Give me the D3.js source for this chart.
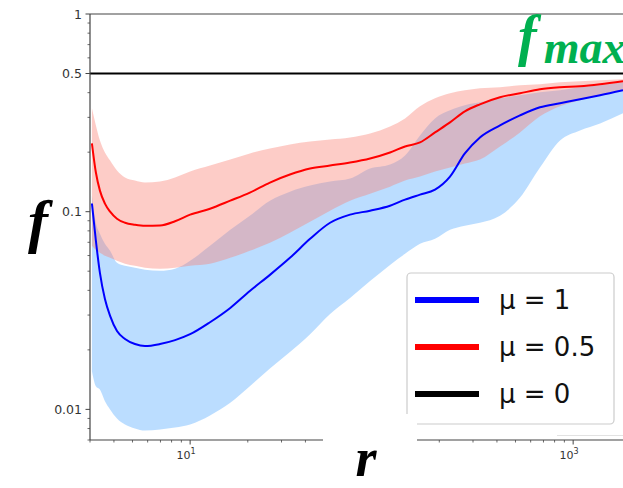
<!DOCTYPE html>
<html>
<head>
<meta charset="utf-8">
<script src="https://cdn.jsdelivr.net/npm/d3@7"></script>
<style>
  body { margin: 0; background: #fff; }
  svg { display: block; }
</style>
</head>
<body>
<svg id="chart" width="623" height="488"></svg>
<script>
// r values (log-spaced)
const r = [3.07, 3.22, 3.38, 3.59, 3.82, 4.15, 4.57, 5.15, 5.81, 6.96, 8.34, 10.0, 12.7, 16.2, 20.5,
  26.1, 33.2, 42.3, 53.8, 68.4, 87.0, 110.6, 132.5, 158.6, 190, 227.5, 272, 326, 415, 528, 671, 854,
  1086, 1382, 1821]

// mu = 1
const blueMean = [0.110, 0.0713, 0.0490, 0.0362, 0.0297, 0.0249, 0.0227, 0.0214, 0.0209, 0.0214,
  0.0224, 0.0240, 0.0276, 0.0326, 0.0397, 0.0479, 0.0584, 0.0729, 0.0879, 0.0966, 0.1012, 0.1072,
  0.1151, 0.1220, 0.1293, 0.1505, 0.1970, 0.2374, 0.2732, 0.3071, 0.3372, 0.3534, 0.3703, 0.3879, 0.4112]
const blueHigh = [0.1206, 0.0879, 0.0773, 0.0688, 0.0634, 0.0551, 0.0532, 0.0520, 0.0508, 0.0502,
  0.0514, 0.0564, 0.0672, 0.0810, 0.0954, 0.1137, 0.1263, 0.1355, 0.1420, 0.1470, 0.1653, 0.1732,
  0.1924, 0.2431, 0.2965, 0.3256, 0.3452, 0.3575, 0.3746, 0.3879, 0.4018, 0.4112, 0.4259, 0.4360, 0.4517]
const blueLow = [0.0156, 0.0131, 0.0126, 0.0110, 0.0100, 0.0090, 0.00839, 0.00801, 0.00782, 0.00792,
  0.00810, 0.00839, 0.00932, 0.0108, 0.0131, 0.0161, 0.0195, 0.0240, 0.0304, 0.0366, 0.0446, 0.0538,
  0.0612, 0.0688, 0.0729, 0.0810, 0.0849, 0.0879, 0.0954, 0.1178, 0.1673, 0.2292, 0.2577, 0.2797, 0.3144]

// mu = 0.5
const redMean = [0.2214, 0.1578, 0.1278, 0.1098, 0.1000, 0.0921, 0.0879, 0.0859, 0.0849, 0.0852,
  0.0895, 0.0966, 0.1035, 0.1137, 0.1249, 0.1404, 0.1541, 0.1653, 0.1712, 0.1773, 0.1858, 0.1993,
  0.2138, 0.2240, 0.2518, 0.2829, 0.3218, 0.3492, 0.3791, 0.3972, 0.4161, 0.4259, 0.4310, 0.4413, 0.4570]
const redHigh = [0.3333, 0.2732, 0.2292, 0.1993, 0.1815, 0.1615, 0.1488, 0.1437, 0.1404, 0.1420,
  0.1488, 0.1596, 0.1712, 0.1837, 0.1970, 0.2088, 0.2188, 0.2265, 0.2319, 0.2374, 0.2489, 0.2701,
  0.2965, 0.3412, 0.3746, 0.3972, 0.4112, 0.4210, 0.4259, 0.4360, 0.4413, 0.4517, 0.4570, 0.4624, 0.4678]
const redLow = [0.0672, 0.0641, 0.0619, 0.0598, 0.0584, 0.0564, 0.0545, 0.0532, 0.0520, 0.0514,
  0.0520, 0.0532, 0.0545, 0.0584, 0.0634, 0.0696, 0.0782, 0.0890, 0.1012, 0.1137, 0.1234, 0.1339,
  0.1437, 0.1505, 0.1596, 0.1673, 0.1752, 0.1837, 0.2138, 0.2518, 0.3035, 0.3412, 0.3660, 0.3879, 0.4112]

// mu = 0
const fMax = 0.5

const yMajor = [0.01, 0.1, 0.5, 1]
const yMajorLabels = ["0.01", "0.1", "0.5", "1"]
const yMinor = [0.007, 0.008, 0.009, 0.02, 0.03, 0.04, 0.05, 0.06, 0.07, 0.08, 0.09,
  0.2, 0.3, 0.4, 0.6, 0.7, 0.8, 0.9]
const xMajor = [10, 100, 1000]
const xLabelled = [10, 1000]      // 10^2 sits under the pasted "r" patch
const xLabelExp = ["1", "3"]
const xMinor = [3, 4, 5, 6, 7, 8, 9, 20, 30, 40, 50, 60, 70, 80, 90,
  200, 300, 400, 500, 600, 700, 800, 900]

const legendLabels = ["μ = 1", "μ = 0.5", "μ = 0"]
const legendColors = ["#0000ff", "#ff0000", "#000000"]

const svg = d3.select("#chart")
const m = { left: 90, right: 623, top: 14, bottom: 440 }

const x = d3.scaleLog().domain([3, 1821]).range([m.left, m.right])
const y = d3.scaleLog().domain([0.007, 1]).range([m.bottom, m.top])

svg.append("defs").append("clipPath").attr("id", "plotclip")
  .append("rect").attr("x", m.left).attr("y", m.top)
  .attr("width", m.right - m.left).attr("height", m.bottom - m.top)

const plot = svg.append("g").attr("clip-path", "url(#plotclip)")

const idx = d3.range(r.length)

// bands: blue first, red on top (gives the mauve overlap)
const area = (lo, hi) => d3.area()
  .x(i => x(r[i])).y0(i => y(lo[i])).y1(i => y(hi[i]))
  .curve(d3.curveMonotoneX)

plot.append("path").datum(idx)
  .attr("d", area(blueLow, blueHigh))
  .attr("fill", "#1e90ff").attr("fill-opacity", 0.3)

plot.append("path").datum(idx)
  .attr("d", area(redLow, redHigh))
  .attr("fill", "#fa8072").attr("fill-opacity", 0.4)

// mean lines
const line = vals => d3.line()
  .x(i => x(r[i])).y(i => y(vals[i]))
  .curve(d3.curveMonotoneX)

plot.append("path").datum(idx)
  .attr("d", line(blueMean))
  .attr("fill", "none").attr("stroke", "#0000ff").attr("stroke-width", 2)

plot.append("path").datum(idx)
  .attr("d", line(redMean))
  .attr("fill", "none").attr("stroke", "#ff0000").attr("stroke-width", 2)

// f max line
svg.append("line")
  .attr("x1", m.left).attr("x2", m.right)
  .attr("y1", y(fMax)).attr("y2", y(fMax))
  .attr("stroke", "#000").attr("stroke-width", 2.2)

// spines
svg.append("line").attr("x1", m.left).attr("x2", m.right).attr("y1", m.top).attr("y2", m.top)
  .attr("stroke", "#444").attr("stroke-width", 1.2)
svg.append("line").attr("x1", m.left).attr("x2", m.left).attr("y1", m.top).attr("y2", m.bottom)
  .attr("stroke", "#444").attr("stroke-width", 1.2)
svg.append("line").attr("x1", m.left).attr("x2", m.right).attr("y1", m.bottom).attr("y2", m.bottom)
  .attr("stroke", "#444").attr("stroke-width", 1.2)

// y ticks
const yAxis = svg.append("g")
yAxis.selectAll(".ymin").data(yMinor).join("line")
  .attr("x1", m.left - 2.5).attr("x2", m.left).attr("y1", d => y(d)).attr("y2", d => y(d))
  .attr("stroke", "#444").attr("stroke-width", 0.8)
yAxis.selectAll(".ymaj").data(yMajor).join("line")
  .attr("x1", m.left - 4.5).attr("x2", m.left).attr("y1", d => y(d)).attr("y2", d => y(d))
  .attr("stroke", "#444").attr("stroke-width", 1)
yAxis.selectAll("text").data(yMajor).join("text")
  .attr("x", m.left - 8).attr("y", d => y(d)).attr("dy", "0.36em")
  .attr("text-anchor", "end")
  .attr("font-family", "DejaVu Sans").attr("font-size", 12.5).attr("fill", "#333")
  .text((d, i) => yMajorLabels[i])

// x ticks
const xAxis = svg.append("g")
xAxis.selectAll(".xmin").data(xMinor).join("line")
  .attr("x1", d => x(d)).attr("x2", d => x(d)).attr("y1", m.bottom).attr("y2", m.bottom + 2.5)
  .attr("stroke", "#444").attr("stroke-width", 0.8)
xAxis.selectAll(".xmaj").data(xMajor).join("line")
  .attr("x1", d => x(d)).attr("x2", d => x(d)).attr("y1", m.bottom).attr("y2", m.bottom + 4.5)
  .attr("stroke", "#444").attr("stroke-width", 1)
const xl = xAxis.selectAll("text").data(xLabelled).join("text")
  .attr("x", d => x(d) - 4).attr("y", 459)
  .attr("text-anchor", "middle")
  .attr("font-family", "DejaVu Sans").attr("font-size", 11).attr("fill", "#333")
xl.append("tspan").text("10")
xl.append("tspan").attr("dy", -5).attr("font-size", 8).text((d, i) => xLabelExp[i])

// legend
const lg = svg.append("g")
lg.append("rect")
  .attr("x", 407).attr("y", 273).attr("width", 207).attr("height", 151)
  .attr("rx", 4).attr("fill", "#fff").attr("stroke", "#ccc").attr("stroke-width", 1.2)
legendLabels.forEach((lab, i) => {
  const yy = 300 + i * 47
  lg.append("line").attr("x1", 415).attr("x2", 479).attr("y1", yy).attr("y2", yy)
    .attr("stroke", legendColors[i]).attr("stroke-width", 6)
  lg.append("text").attr("x", 499).attr("y", yy + 9)
    .attr("font-family", "DejaVu Sans").attr("font-size", 26).attr("fill", "#111")
    .text(lab)
})

// pasted-over patch behind the "r" label
svg.append("rect").attr("x", 323).attr("y", 414).attr("width", 94).attr("height", 74).attr("fill", "#fff")
svg.append("line").attr("x1", 557).attr("x2", 623).attr("y1", 435.5).attr("y2", 435.5)
  .attr("stroke", "#e2e2e2").attr("stroke-width", 1)

// axis letters
svg.append("text").attr("x", 38).attr("y", 241).attr("text-anchor", "middle")
  .attr("font-family", "Liberation Serif").attr("font-style", "italic").attr("font-weight", "bold")
  .attr("font-size", 60).attr("fill", "#000").text("f")
svg.append("text").attr("x", 366).attr("y", 476).attr("text-anchor", "middle")
  .attr("font-family", "Liberation Serif").attr("font-style", "italic").attr("font-weight", "bold")
  .attr("font-size", 54).attr("fill", "#000").text("r")

const fm = svg.append("text").attr("x", 518).attr("y", 55)
  .attr("font-family", "Liberation Serif").attr("font-style", "italic").attr("font-weight", "bold")
  .attr("fill", "#00b050")
fm.append("tspan").attr("font-size", 56).text("f")
fm.append("tspan").attr("font-size", 46).attr("dy", 8).attr("dx", 7).text("max")
</script>
</body>
</html>
